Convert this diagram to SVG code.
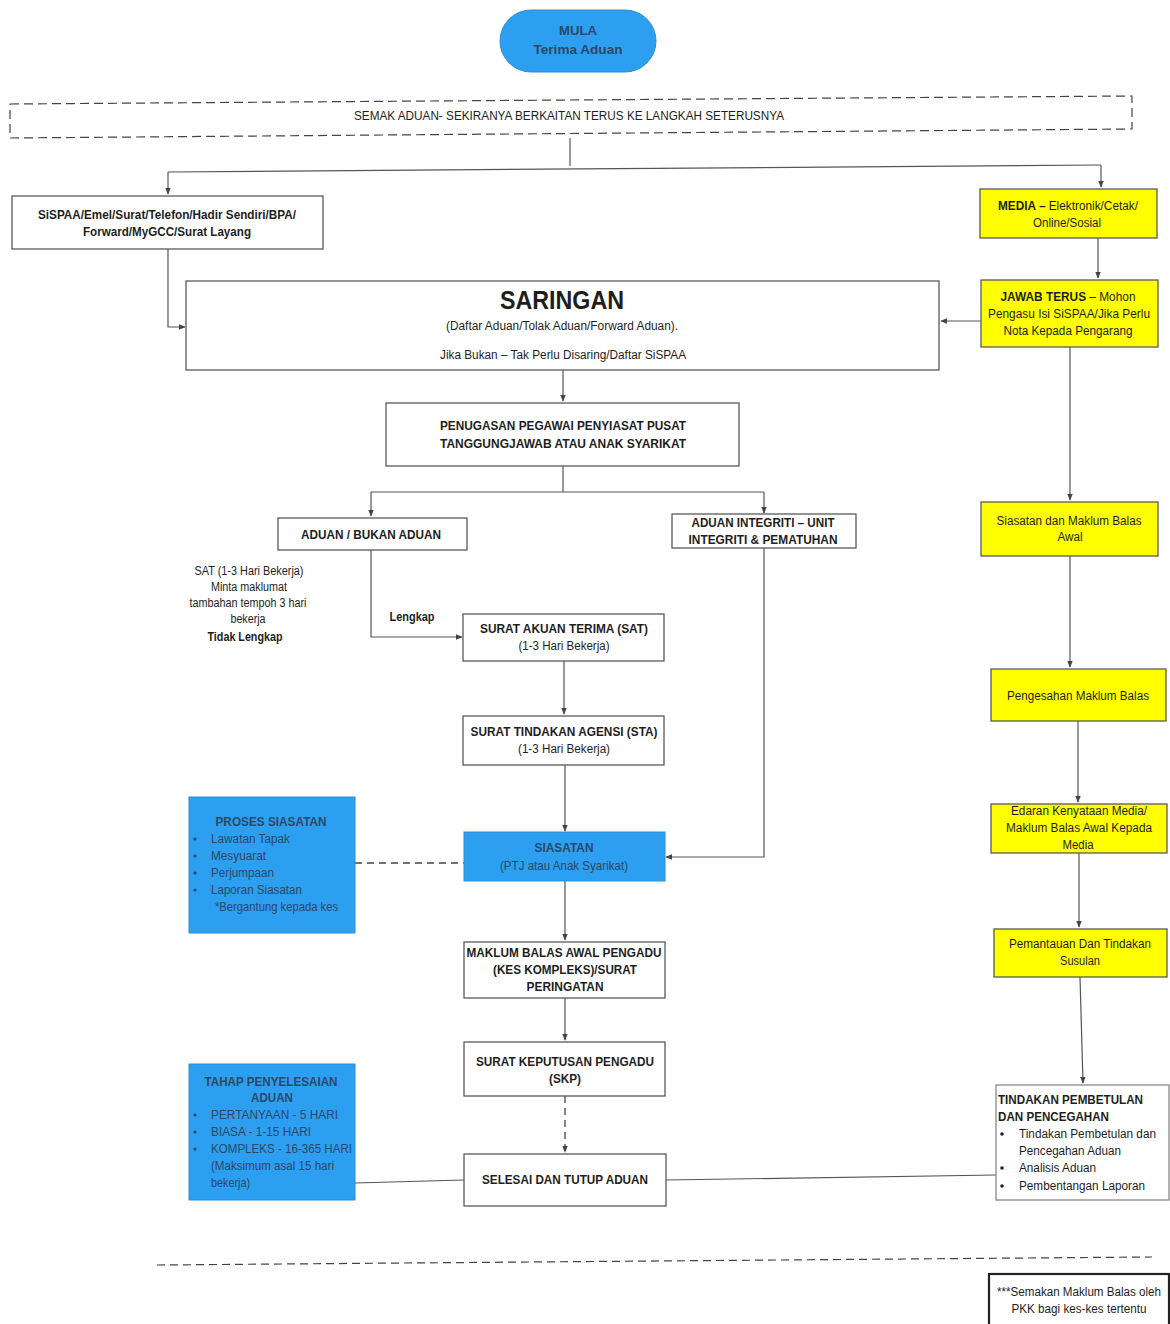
<svg xmlns="http://www.w3.org/2000/svg" width="1170" height="1324" viewBox="0 0 1170 1324">
<style>
.bg{fill:#fff}
.box{fill:#fff;stroke:#5a5a5a;stroke-width:1.3}
.yel{fill:#ffff00;stroke:#5a5a5a;stroke-width:1.3}
.blu{fill:#2c9ff0;stroke:#2a8fd8;stroke-width:1}
.t{font-family:"Liberation Sans",Arial,sans-serif;font-size:12px;fill:#1e1e1e}
.b{font-weight:bold}
.c{text-anchor:middle}
.bt{fill:#2a4868}
.ln{fill:none;stroke:#555;stroke-width:1.2}
.dl{fill:none;stroke:#444;stroke-width:1.3;stroke-dasharray:7,5}
</style>
<defs>
<marker id="ah" viewBox="0 0 10 10" refX="9" refY="5" markerWidth="7" markerHeight="7" orient="auto" markerUnits="userSpaceOnUse">
<path d="M0,1 L10,5 L0,9 z" fill="#444"/>
</marker>
</defs>
<rect class="bg" x="0" y="0" width="1170" height="1324"/>

<g id="connectors">
<path class="ln" d="M570,138 V166" />
<path class="ln" d="M168,172 L1101,165" />
<path class="ln" d="M168,172 V194" marker-end="url(#ah)"/>
<path class="ln" d="M1101,165 V187" marker-end="url(#ah)"/>
<path class="ln" d="M168,249 V327 H185" marker-end="url(#ah)"/>
<path class="ln" d="M1098,238 V278" marker-end="url(#ah)"/>
<path class="ln" d="M981,321 H941" marker-end="url(#ah)"/>
<path class="ln" d="M563,370 V401" marker-end="url(#ah)"/>
<path class="ln" d="M563,466 V492" />
<path class="ln" d="M371,492 H764" />
<path class="ln" d="M371,492 V516" marker-end="url(#ah)"/>
<path class="ln" d="M764,492 V513" marker-end="url(#ah)"/>
<path class="ln" d="M371,550 V637 H462" marker-end="url(#ah)"/>
<path class="ln" d="M564,661 V714" marker-end="url(#ah)"/>
<path class="ln" d="M565,765 V831" marker-end="url(#ah)"/>
<path class="ln" d="M764,548 V857 H666" marker-end="url(#ah)"/>
<path class="dl" d="M355,863 H464" />
<path class="ln" d="M565,881 V940" marker-end="url(#ah)"/>
<path class="ln" d="M565,998 V1040" marker-end="url(#ah)"/>
<path class="dl" d="M565,1096 V1152" marker-end="url(#ah)"/>
<path class="ln" d="M355,1183 L464,1180" />
<path class="ln" d="M996,1175 L666,1180" />
<path class="ln" d="M1070,347 V500" marker-end="url(#ah)"/>
<path class="ln" d="M1070,556 V667" marker-end="url(#ah)"/>
<path class="ln" d="M1078,721 V802" marker-end="url(#ah)"/>
<path class="ln" d="M1079,853 V927" marker-end="url(#ah)"/>
<path class="ln" d="M1080,977 L1083,1083" marker-end="url(#ah)"/>
<path class="dl" d="M157,1265 L1152,1257" style="stroke-width:1.2;stroke-dasharray:8,5"/>
</g>

<g id="mula">
<rect x="500" y="10" width="156" height="62" rx="31" ry="31" style="fill:#2c9ff0;stroke:#2a8fd8"/>
<text class="t b c bt" x="578" y="35" textLength="38" lengthAdjust="spacingAndGlyphs">MULA</text>
<text class="t b c bt" x="578" y="54" textLength="89" lengthAdjust="spacingAndGlyphs">Terima Aduan</text>
</g>

<g id="semak">
<path class="dl" d="M10,104 L1132,96 V129 L10,138 Z" style="stroke-dasharray:9,5;stroke-width:1.2"/>
<text class="t c" x="569" y="120" textLength="430" lengthAdjust="spacingAndGlyphs">SEMAK ADUAN- SEKIRANYA BERKAITAN TERUS KE LANGKAH SETERUSNYA</text>
</g>

<g id="saluran">
<rect class="box" x="12" y="196" width="311" height="53"/>
<text class="t b c" x="167" y="219" textLength="258" lengthAdjust="spacingAndGlyphs">SiSPAA/Emel/Surat/Telefon/Hadir Sendiri/BPA/</text>
<text class="t b c" x="167" y="236" textLength="168" lengthAdjust="spacingAndGlyphs">Forward/MyGCC/Surat Layang</text>
</g>

<g id="media">
<rect class="yel" x="980" y="189" width="177" height="49"/>
<text class="t c" x="1068" y="210" textLength="140" lengthAdjust="spacingAndGlyphs"><tspan class="b">MEDIA – </tspan>Elektronik/Cetak/</text>
<text class="t c" x="1067" y="227" textLength="68" lengthAdjust="spacingAndGlyphs">Online/Sosial</text>
</g>

<g id="jawab">
<rect class="yel" x="981" y="280" width="177" height="67"/>
<text class="t c" x="1068" y="301" textLength="135" lengthAdjust="spacingAndGlyphs"><tspan class="b">JAWAB TERUS</tspan> – Mohon</text>
<text class="t c" x="1069" y="318" textLength="162" lengthAdjust="spacingAndGlyphs">Pengasu Isi SiSPAA/Jika Perlu</text>
<text class="t c" x="1068" y="335" textLength="129" lengthAdjust="spacingAndGlyphs">Nota Kepada Pengarang</text>
</g>

<g id="saringan">
<rect class="box" x="186" y="281" width="753" height="89"/>
<text class="t b c" x="562" y="309" style="font-size:26px" textLength="124" lengthAdjust="spacingAndGlyphs">SARINGAN</text>
<text class="t c" x="562" y="330" textLength="232" lengthAdjust="spacingAndGlyphs">(Daftar Aduan/Tolak Aduan/Forward Aduan).</text>
<text class="t c" x="563" y="359" textLength="246" lengthAdjust="spacingAndGlyphs">Jika Bukan – Tak Perlu Disaring/Daftar SiSPAA</text>
</g>

<g id="penugasan">
<rect class="box" x="386" y="403" width="353" height="63"/>
<text class="t b c" x="563" y="430" textLength="246" lengthAdjust="spacingAndGlyphs">PENUGASAN PEGAWAI PENYIASAT PUSAT</text>
<text class="t b c" x="563" y="448" textLength="246" lengthAdjust="spacingAndGlyphs">TANGGUNGJAWAB ATAU ANAK SYARIKAT</text>
</g>

<g id="aduan-bukan">
<rect class="box" x="278" y="518" width="189" height="32"/>
<text class="t b c" x="371" y="539" textLength="140" lengthAdjust="spacingAndGlyphs">ADUAN / BUKAN ADUAN</text>
</g>

<g id="integriti">
<rect class="box" x="672" y="514" width="184" height="34"/>
<text class="t b c" x="763" y="527" textLength="143" lengthAdjust="spacingAndGlyphs">ADUAN INTEGRITI – UNIT</text>
<text class="t b c" x="763" y="544" textLength="149" lengthAdjust="spacingAndGlyphs">INTEGRITI &amp; PEMATUHAN</text>
</g>

<g id="label-tidak-lengkap">
<text class="t c" x="249" y="575" textLength="109" lengthAdjust="spacingAndGlyphs">SAT (1-3 Hari Bekerja)</text>
<text class="t c" x="249" y="591" textLength="76" lengthAdjust="spacingAndGlyphs">Minta maklumat</text>
<text class="t c" x="248" y="607" textLength="117" lengthAdjust="spacingAndGlyphs">tambahan tempoh 3 hari</text>
<text class="t c" x="248" y="623" textLength="35" lengthAdjust="spacingAndGlyphs">bekerja</text>
<text class="t b c" x="245" y="641" textLength="75" lengthAdjust="spacingAndGlyphs">Tidak Lengkap</text>
<text class="t b c" x="412" y="621" textLength="45" lengthAdjust="spacingAndGlyphs">Lengkap</text>
</g>

<g id="sat">
<rect class="box" x="463" y="614" width="201" height="47"/>
<text class="t b c" x="564" y="633" textLength="168" lengthAdjust="spacingAndGlyphs">SURAT AKUAN TERIMA (SAT)</text>
<text class="t c" x="564" y="650" textLength="91" lengthAdjust="spacingAndGlyphs">(1-3 Hari Bekerja)</text>
</g>

<g id="sta">
<rect class="box" x="463" y="716" width="201" height="49"/>
<text class="t b c" x="564" y="736" textLength="187" lengthAdjust="spacingAndGlyphs">SURAT TINDAKAN AGENSI (STA)</text>
<text class="t c" x="564" y="753" textLength="92" lengthAdjust="spacingAndGlyphs">(1-3 Hari Bekerja)</text>
</g>

<g id="siasatan">
<rect class="blu" x="464" y="832" width="201" height="49"/>
<text class="t b c bt" x="564" y="852" textLength="59" lengthAdjust="spacingAndGlyphs">SIASATAN</text>
<text class="t c bt" x="564" y="870" textLength="128" lengthAdjust="spacingAndGlyphs">(PTJ atau Anak Syarikat)</text>
</g>

<g id="proses-siasatan">
<rect class="blu" x="189" y="797" width="166" height="136"/>
<text class="t b c bt" x="271" y="826" textLength="111" lengthAdjust="spacingAndGlyphs">PROSES SIASATAN</text>
<circle cx="195" cy="839" r="1.6" style="fill:#2a4868"/>
<text class="t bt" x="211" y="843" textLength="79" lengthAdjust="spacingAndGlyphs">Lawatan Tapak</text>
<circle cx="195" cy="856" r="1.6" style="fill:#2a4868"/>
<text class="t bt" x="211" y="860" textLength="55" lengthAdjust="spacingAndGlyphs">Mesyuarat</text>
<circle cx="195" cy="873" r="1.6" style="fill:#2a4868"/>
<text class="t bt" x="211" y="877" textLength="63" lengthAdjust="spacingAndGlyphs">Perjumpaan</text>
<circle cx="195" cy="890" r="1.6" style="fill:#2a4868"/>
<text class="t bt" x="211" y="894" textLength="91" lengthAdjust="spacingAndGlyphs">Laporan Siasatan</text>
<text class="t bt" x="215" y="911" textLength="123" lengthAdjust="spacingAndGlyphs">*Bergantung kepada kes</text>
</g>

<g id="maklum-balas">
<rect class="box" x="464" y="942" width="201" height="56"/>
<text class="t b c" x="564" y="957" textLength="195" lengthAdjust="spacingAndGlyphs">MAKLUM BALAS AWAL PENGADU</text>
<text class="t b c" x="565" y="974" textLength="144" lengthAdjust="spacingAndGlyphs">(KES KOMPLEKS)/SURAT</text>
<text class="t b c" x="565" y="991" textLength="77" lengthAdjust="spacingAndGlyphs">PERINGATAN</text>
</g>

<g id="skp">
<rect class="box" x="464" y="1042" width="201" height="54"/>
<text class="t b c" x="565" y="1066" textLength="178" lengthAdjust="spacingAndGlyphs">SURAT KEPUTUSAN PENGADU</text>
<text class="t b c" x="565" y="1083" textLength="32" lengthAdjust="spacingAndGlyphs">(SKP)</text>
</g>

<g id="selesai">
<rect class="box" x="464" y="1154" width="202" height="52"/>
<text class="t b c" x="565" y="1184" textLength="166" lengthAdjust="spacingAndGlyphs">SELESAI DAN TUTUP ADUAN</text>
</g>

<g id="tahap">
<rect class="blu" x="189" y="1064" width="166" height="136"/>
<text class="t b c bt" x="271" y="1086" textLength="133" lengthAdjust="spacingAndGlyphs">TAHAP PENYELESAIAN</text>
<text class="t b c bt" x="272" y="1102" textLength="42" lengthAdjust="spacingAndGlyphs">ADUAN</text>
<circle cx="195" cy="1115" r="1.6" style="fill:#2a4868"/>
<text class="t bt" x="211" y="1119" textLength="127" lengthAdjust="spacingAndGlyphs">PERTANYAAN - 5 HARI</text>
<circle cx="195" cy="1132" r="1.6" style="fill:#2a4868"/>
<text class="t bt" x="211" y="1136" textLength="100" lengthAdjust="spacingAndGlyphs">BIASA - 1-15 HARI</text>
<circle cx="195" cy="1149" r="1.6" style="fill:#2a4868"/>
<text class="t bt" x="211" y="1153" textLength="141" lengthAdjust="spacingAndGlyphs">KOMPLEKS - 16-365 HARI</text>
<text class="t bt" x="211" y="1170" textLength="123" lengthAdjust="spacingAndGlyphs">(Maksimum asal 15 hari</text>
<text class="t bt" x="211" y="1187" textLength="39" lengthAdjust="spacingAndGlyphs">bekerja)</text>
</g>

<g id="siasatan-media">
<rect class="yel" x="981" y="502" width="177" height="54"/>
<text class="t c" x="1069" y="525" textLength="145" lengthAdjust="spacingAndGlyphs">Siasatan dan Maklum Balas</text>
<text class="t c" x="1070" y="541" textLength="25" lengthAdjust="spacingAndGlyphs">Awal</text>
</g>

<g id="pengesahan">
<rect class="yel" x="991" y="669" width="175" height="52"/>
<text class="t c" x="1078" y="700" textLength="142" lengthAdjust="spacingAndGlyphs">Pengesahan Maklum Balas</text>
</g>

<g id="edaran">
<rect class="yel" x="991" y="804" width="176" height="49"/>
<text class="t c" x="1079" y="815" textLength="136" lengthAdjust="spacingAndGlyphs">Edaran Kenyataan Media/</text>
<text class="t c" x="1079" y="832" textLength="146" lengthAdjust="spacingAndGlyphs">Maklum Balas Awal Kepada</text>
<text class="t c" x="1078" y="849" textLength="31" lengthAdjust="spacingAndGlyphs">Media</text>
</g>

<g id="pemantauan">
<rect class="yel" x="994" y="929" width="173" height="48"/>
<text class="t c" x="1080" y="948" textLength="142" lengthAdjust="spacingAndGlyphs">Pemantauan Dan Tindakan</text>
<text class="t c" x="1080" y="965" textLength="40" lengthAdjust="spacingAndGlyphs">Susulan</text>
</g>

<g id="tindakan">
<rect class="box" x="996" y="1085" width="173" height="115" style="stroke:#888"/>
<text class="t b" x="998" y="1104" textLength="145" lengthAdjust="spacingAndGlyphs">TINDAKAN PEMBETULAN</text>
<text class="t b" x="998" y="1121" textLength="111" lengthAdjust="spacingAndGlyphs">DAN PENCEGAHAN</text>
<circle cx="1002" cy="1134" r="1.8" style="fill:#222"/>
<text class="t" x="1019" y="1138" textLength="137" lengthAdjust="spacingAndGlyphs">Tindakan Pembetulan dan</text>
<text class="t" x="1019" y="1155" textLength="102" lengthAdjust="spacingAndGlyphs">Pencegahan Aduan</text>
<circle cx="1002" cy="1168" r="1.8" style="fill:#222"/>
<text class="t" x="1019" y="1172" textLength="77" lengthAdjust="spacingAndGlyphs">Analisis Aduan</text>
<circle cx="1002" cy="1186" r="1.8" style="fill:#222"/>
<text class="t" x="1019" y="1190" textLength="126" lengthAdjust="spacingAndGlyphs">Pembentangan Laporan</text>
</g>

<g id="nota">
<rect x="989" y="1274" width="180" height="52" style="fill:#fff;stroke:#222;stroke-width:2.2"/>
<text class="t c" x="1079" y="1296" textLength="164" lengthAdjust="spacingAndGlyphs">***Semakan Maklum Balas oleh</text>
<text class="t c" x="1079" y="1313" textLength="135" lengthAdjust="spacingAndGlyphs">PKK bagi kes-kes tertentu</text>
</g>
</svg>
